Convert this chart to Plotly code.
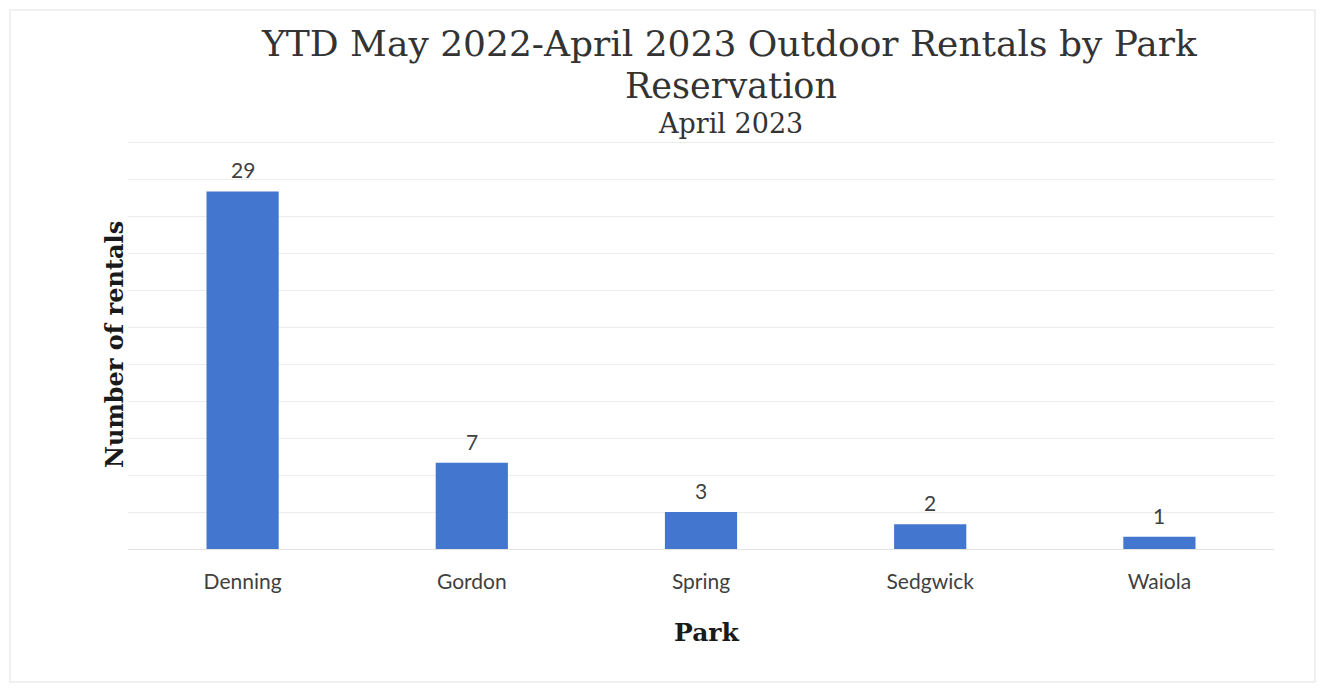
import plotly.graph_objects as go

# Chart data
parks = ["Denning", "Gordon", "Spring", "Sedgwick", "Waiola"]
rentals = [29, 7, 3, 2, 1]
grid_values = [0, 3, 6, 9, 12, 15, 18, 21, 24, 27, 30, 33]

title_line1 = "YTD May 2022-April 2023 Outdoor Rentals by Park"
title_line2 = "Reservation"
subtitle = "April 2023"
y_title = "Number of rentals"
x_title = "Park"

W, H = 1322, 690
ML, MR, MT, MB = 128, 48, 136, 141
plot_w = W - ML - MR
plot_h = H - MT - MB


def px_x(x):
    return (x - ML) / plot_w


def px_y(y):
    return (H - MB - y) / plot_h


BAR = "#4376CE"
TXT = "#3f3f3f"
SERIF = "DejaVu Serif"
SANS = "Lato"

fig = go.Figure(
    go.Bar(
        x=parks,
        y=rentals,
        marker=dict(color=BAR, line=dict(width=0)),
        width=0.315,
        hoverinfo="x+y",
    )
)

annotations = []
# value labels above each bar
for p, v in zip(parks, rentals):
    annotations.append(dict(
        x=p, y=v, xref="x", yref="y", text=str(v), showarrow=False,
        yanchor="bottom", yshift=7, font=dict(family=SANS, size=21, color=TXT),
    ))

# title block
annotations += [
    dict(x=px_x(729), y=px_y(43), xref="paper", yref="paper", text=title_line1,
         showarrow=False, xanchor="center", yanchor="middle",
         font=dict(family=SERIF, size=36, color="#333333")),
    dict(x=px_x(731), y=px_y(86), xref="paper", yref="paper", text=title_line2,
         showarrow=False, xanchor="center", yanchor="middle",
         font=dict(family=SERIF, size=35, color="#333333")),
    dict(x=px_x(730), y=px_y(124), xref="paper", yref="paper", text=subtitle,
         showarrow=False, xanchor="center", yanchor="middle",
         font=dict(family=SERIF, size=27, color="#333333")),
    dict(x=px_x(114), y=px_y(345), xref="paper", yref="paper", text="<b>%s</b>" % y_title,
         showarrow=False, xanchor="center", yanchor="middle", textangle=-90,
         font=dict(family=SERIF, size=24, color="#1a1a1a")),
    dict(x=px_x(707), y=px_y(632), xref="paper", yref="paper", text="<b>%s</b>" % x_title,
         showarrow=False, xanchor="center", yanchor="middle",
         font=dict(family=SERIF, size=25, color="#1a1a1a")),
]

fig.update_layout(
    width=W, height=H,
    margin=dict(l=ML, r=MR, t=MT, b=MB, pad=0),
    paper_bgcolor="white", plot_bgcolor="white",
    showlegend=False,
    annotations=annotations,
    shapes=[dict(type="rect", xref="paper", yref="paper",
                 x0=px_x(10), x1=px_x(1315), y0=px_y(682), y1=px_y(10),
                 line=dict(color="#ececec", width=1.5), layer="below")],
    bargap=0.685,
)

fig.update_xaxes(
    showgrid=False, showline=True, linecolor="#e2e2e2", linewidth=1,
    ticks="", tickfont=dict(family=SANS, size=21, color=TXT),
    ticklabelstandoff=14,
)
fig.update_yaxes(
    range=[0, 33.5], tickvals=grid_values, showgrid=True,
    gridcolor="#ededed", gridwidth=1,
    showticklabels=False, zeroline=False, showline=False, ticks="",
)

fig.write_html("out.html")
